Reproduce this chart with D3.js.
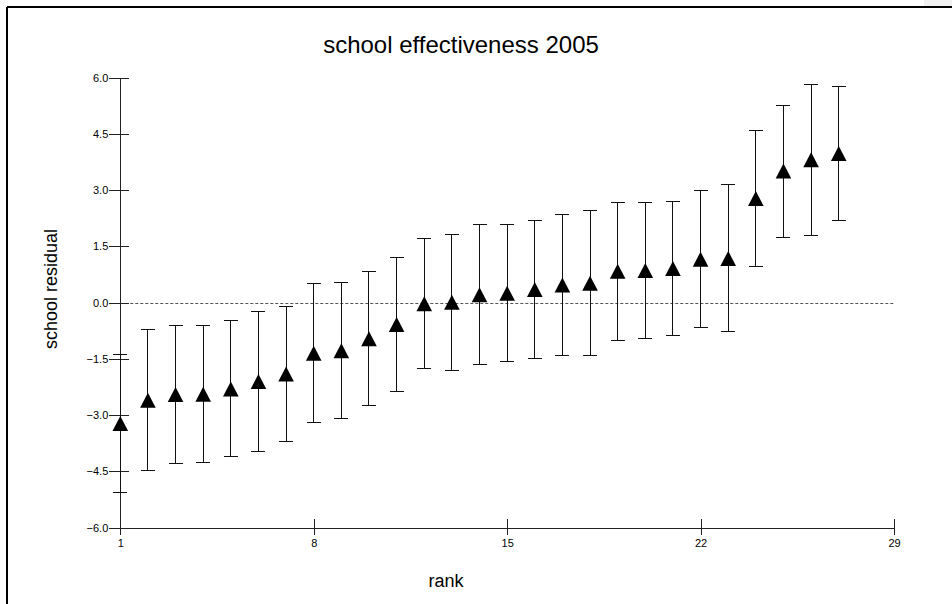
<!DOCTYPE html>
<html>
<head>
<meta charset="utf-8">
<script src="https://cdn.jsdelivr.net/npm/d3@7"></script>
<style>
  html, body { margin: 0; padding: 0; background: #fff; }
  svg { display: block; font-family: "Liberation Sans", Arial, sans-serif; }
  .axis text { font-size: 11px; fill: #000; }
  .axis path, .axis line { stroke: #222; shape-rendering: crispEdges; }
</style>
</head>
<body>
<script>
const ranks = d3.range(1, 28);
const residual = [-3.22, -2.60, -2.45, -2.44, -2.30, -2.10, -1.90, -1.35, -1.28, -0.96,
  -0.58, -0.03, 0.01, 0.21, 0.25, 0.35, 0.47, 0.52, 0.84, 0.86,
  0.91, 1.16, 1.18, 2.78, 3.51, 3.81, 3.98];
const upper = [-1.38, -0.71, -0.61, -0.61, -0.48, -0.23, -0.10, 0.50, 0.53, 0.82,
  1.20, 1.70, 1.83, 2.08, 2.08, 2.18, 2.35, 2.45, 2.68, 2.68,
  2.70, 2.98, 3.15, 4.60, 5.27, 5.81, 5.77];
const lower = [-5.05, -4.47, -4.30, -4.27, -4.11, -3.97, -3.71, -3.19, -3.09, -2.74,
  -2.36, -1.76, -1.81, -1.66, -1.58, -1.49, -1.41, -1.41, -1.01, -0.96,
  -0.88, -0.65, -0.78, 0.97, 1.75, 1.80, 2.20];
const xTicks = [1, 8, 15, 22, 29];
const yTicks = [-6, -4.5, -3, -1.5, 0, 1.5, 3, 4.5, 6];

const width = 952, height = 604;
const plot = { left: 120.3, right: 894, top: 77.7, bottom: 527.7 };

const svg = d3.select("body").append("svg")
  .attr("width", width)
  .attr("height", height);

// frame
svg.append("rect").attr("x", 924).attr("y", 0).attr("width", 28).attr("height", 6).attr("fill", "#f0f0f0");
svg.append("line").attr("x1", 7).attr("x2", width).attr("y1", 7).attr("y2", 7)
  .attr("stroke", "#000").attr("stroke-width", 2);
svg.append("line").attr("x1", 7).attr("x2", 7).attr("y1", 7).attr("y2", height)
  .attr("stroke", "#000").attr("stroke-width", 2);

const x = d3.scaleLinear().domain([1, 29]).range([plot.left, plot.right]);
const y = d3.scaleLinear().domain([-6, 6]).range([plot.bottom, plot.top]);

// zero reference line
svg.append("line")
  .attr("x1", x(1)).attr("x2", x(29))
  .attr("y1", Math.round(y(0)) + 0.5).attr("y2", Math.round(y(0)) + 0.5)
  .attr("stroke", "#555")
  .attr("stroke-dasharray", "3,2");

const yAxis = svg.append("g")
  .attr("class", "axis")
  .attr("transform", `translate(${plot.left},0)`)
  .call(d3.axisLeft(y).tickValues(yTicks).tickFormat(d3.format(".1f")).tickSize(11).tickSizeOuter(0).tickPadding(1));
yAxis.selectAll(".tick line").attr("x1", 9);

const xAxis = svg.append("g")
  .attr("class", "axis")
  .attr("transform", `translate(0,${plot.bottom})`)
  .call(d3.axisBottom(x).tickValues(xTicks).tickFormat(d3.format("d")).tickSize(7).tickSizeOuter(0).tickPadding(5));
xAxis.selectAll(".tick line").attr("y1", -9);

// error bars
const bars = svg.append("g")
  .attr("stroke", "#111")
  .attr("shape-rendering", "crispEdges")
  .selectAll("g")
  .data(ranks)
  .enter()
  .append("g");

bars.append("line")
  .attr("x1", d => x(d)).attr("x2", d => x(d))
  .attr("y1", (d, i) => y(upper[i])).attr("y2", (d, i) => y(lower[i]));
bars.append("line")
  .attr("x1", d => x(d) - 7).attr("x2", d => x(d) + 7)
  .attr("y1", (d, i) => y(upper[i])).attr("y2", (d, i) => y(upper[i]));
bars.append("line")
  .attr("x1", d => x(d) - 7).attr("x2", d => x(d) + 7)
  .attr("y1", (d, i) => y(lower[i])).attr("y2", (d, i) => y(lower[i]));

// triangle markers
svg.append("g")
  .selectAll("path")
  .data(ranks)
  .enter()
  .append("path")
  .attr("d", "M0,-7.5L7.8,7.5L-7.8,7.5Z")
  .attr("transform", (d, i) => `translate(${x(d)},${y(residual[i])})`)
  .attr("fill", "#000");

// titles
svg.append("text")
  .attr("x", 461).attr("y", 53)
  .attr("text-anchor", "middle")
  .attr("font-size", 24)
  .text("school effectiveness 2005");

svg.append("text")
  .attr("transform", "translate(57,289) rotate(-90)")
  .attr("text-anchor", "middle")
  .attr("font-size", 18)
  .text("school residual");

svg.append("text")
  .attr("x", 446).attr("y", 587)
  .attr("text-anchor", "middle")
  .attr("font-size", 18)
  .text("rank");
</script>
</body>
</html>
